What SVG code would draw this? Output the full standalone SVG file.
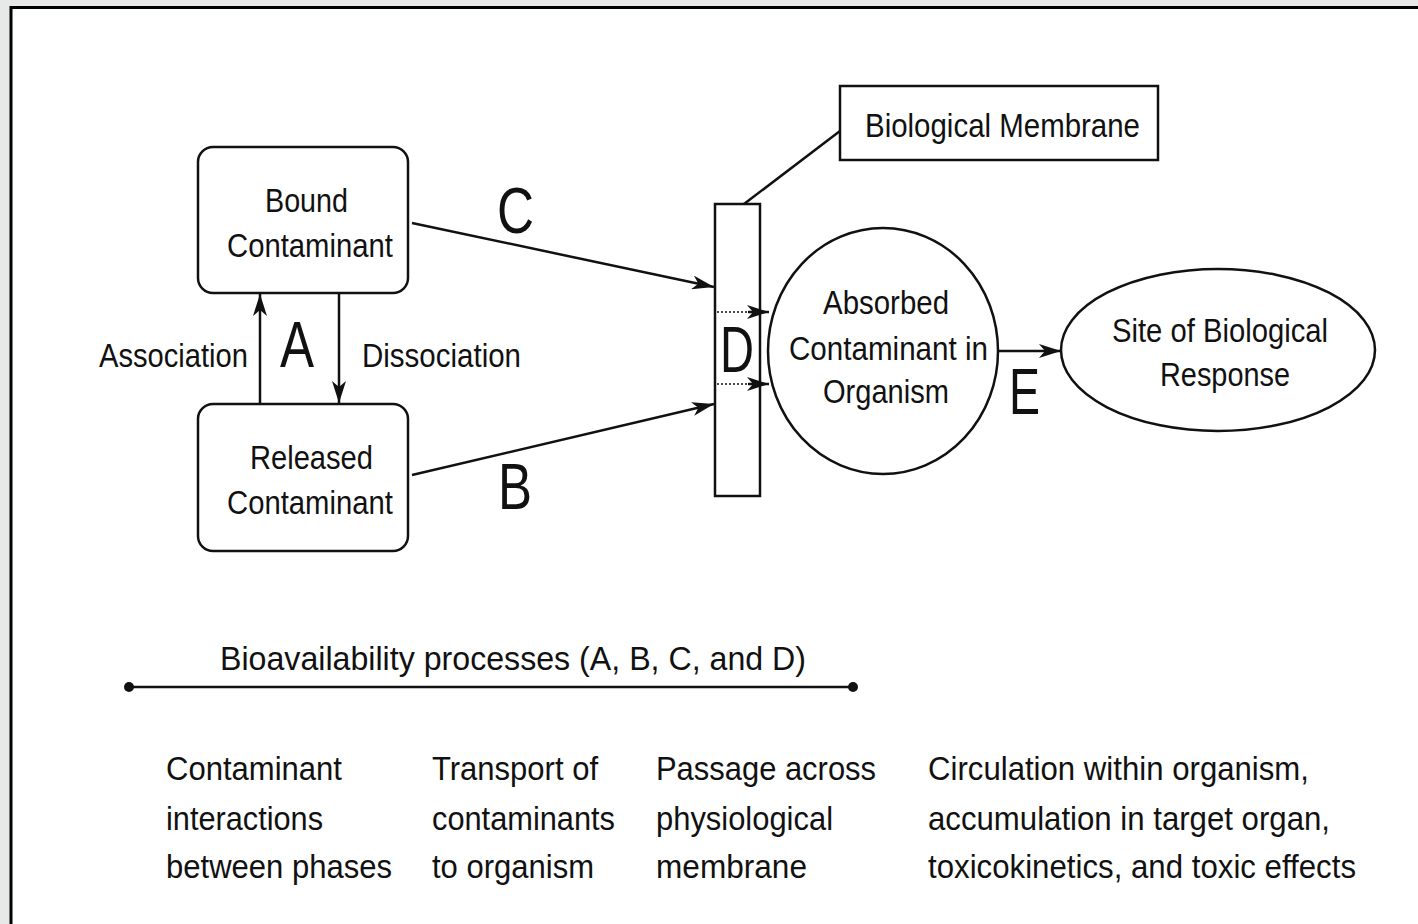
<svg xmlns="http://www.w3.org/2000/svg" width="1418" height="924" viewBox="0 0 1418 924">
<style>
  .t{font-family:"Liberation Sans",Arial,sans-serif;font-size:33px;fill:#111}
  .b{font-family:"Liberation Sans",Arial,sans-serif;font-size:34px;fill:#111}
  .big{font-family:"Liberation Sans",Arial,sans-serif;font-size:64px;fill:#111}
  .sh{fill:#fff;stroke:#111;stroke-width:2.5}
  .ln{stroke:#111;stroke-width:2.5;fill:none}
  .dot{stroke:#111;stroke-width:1.5;stroke-dasharray:2 2;fill:none}
</style>
<defs>
  <marker id="ah" viewBox="0 0 22 14" refX="22" refY="7" markerWidth="22" markerHeight="14" orient="auto" markerUnits="userSpaceOnUse">
    <path d="M0,0 L22,7 L0,14 L6,7 Z" fill="#111"/>
  </marker>
</defs>
<rect x="0" y="0" width="1418" height="924" fill="#e6e9e8"/>
<rect x="11" y="7.5" width="1420" height="930" fill="#fff" stroke="#000" stroke-width="3"/>

<g id="connectors">
  <line class="ln" x1="260" y1="404" x2="260" y2="294" marker-end="url(#ah)"/>
  <line class="ln" x1="339" y1="293" x2="339" y2="403" marker-end="url(#ah)"/>
  <line class="ln" x1="412" y1="223" x2="714" y2="287" marker-end="url(#ah)"/>
  <line class="ln" x1="412" y1="475" x2="714" y2="404" marker-end="url(#ah)"/>
  <line class="dot" x1="717" y1="312" x2="752" y2="312"/>
  <line class="ln" x1="748" y1="312" x2="769" y2="312" marker-end="url(#ah)"/>
  <line class="dot" x1="717" y1="384" x2="752" y2="384"/>
  <line class="ln" x1="748" y1="384" x2="769" y2="384" marker-end="url(#ah)"/>
  <line class="ln" x1="998" y1="351" x2="1061" y2="351" marker-end="url(#ah)"/>
  <line class="ln" x1="744" y1="204" x2="840" y2="131"/>
</g>

<g id="bound">
  <rect class="sh" x="198" y="147" width="210" height="146" rx="15"/>
  <text class="t" x="265" y="212" textLength="83" lengthAdjust="spacingAndGlyphs">Bound</text>
  <text class="t" x="227" y="257" textLength="166" lengthAdjust="spacingAndGlyphs">Contaminant</text>
</g>
<g id="released">
  <rect class="sh" x="198" y="404" width="210" height="147" rx="15"/>
  <text class="t" x="250" y="469" textLength="123" lengthAdjust="spacingAndGlyphs">Released</text>
  <text class="t" x="227" y="514" textLength="166" lengthAdjust="spacingAndGlyphs">Contaminant</text>
</g>
<g id="labelA">
  <text class="t" x="99" y="367" textLength="149" lengthAdjust="spacingAndGlyphs">Association</text>
  <text class="big" x="280" y="367" textLength="34" lengthAdjust="spacingAndGlyphs">A</text>
  <text class="t" x="362" y="367" textLength="159" lengthAdjust="spacingAndGlyphs">Dissociation</text>
</g>
<g id="labelC"><text class="big" x="497" y="233" textLength="37" lengthAdjust="spacingAndGlyphs">C</text></g>
<g id="labelB"><text class="big" x="498" y="509" textLength="34" lengthAdjust="spacingAndGlyphs">B</text></g>

<g id="membrane">
  <rect x="715" y="204" width="45" height="292" fill="none" stroke="#111" stroke-width="2.5"/>
  <text class="big" x="720" y="372" textLength="34" lengthAdjust="spacingAndGlyphs">D</text>
</g>
<g id="membrane-label">
  <rect class="sh" x="840" y="86" width="318" height="74"/>
  <text class="t" x="865" y="137" textLength="275" lengthAdjust="spacingAndGlyphs">Biological Membrane</text>
</g>
<g id="absorbed">
  <ellipse class="sh" cx="883" cy="351" rx="115" ry="123"/>
  <text class="t" x="823" y="314" textLength="126" lengthAdjust="spacingAndGlyphs">Absorbed</text>
  <text class="t" x="789" y="360" textLength="199" lengthAdjust="spacingAndGlyphs">Contaminant in</text>
  <text class="t" x="823" y="403" textLength="126" lengthAdjust="spacingAndGlyphs">Organism</text>
</g>
<g id="labelE"><text class="big" x="1009" y="414" textLength="31" lengthAdjust="spacingAndGlyphs">E</text></g>
<g id="site">
  <ellipse class="sh" cx="1218" cy="350" rx="157" ry="81"/>
  <text class="t" x="1112" y="342" textLength="216" lengthAdjust="spacingAndGlyphs">Site of Biological</text>
  <text class="t" x="1160" y="386" textLength="130" lengthAdjust="spacingAndGlyphs">Response</text>
</g>

<g id="bioavailability">
  <text class="b" x="220" y="670" textLength="586" lengthAdjust="spacingAndGlyphs">Bioavailability processes (A, B, C, and D)</text>
  <line class="ln" x1="128" y1="687" x2="854" y2="687"/>
  <circle cx="129" cy="687" r="5" fill="#111"/>
  <circle cx="853" cy="687" r="5" fill="#111"/>
</g>

<g id="col1">
  <text class="b" x="166" y="780" textLength="176" lengthAdjust="spacingAndGlyphs">Contaminant</text>
  <text class="b" x="166" y="830" textLength="157" lengthAdjust="spacingAndGlyphs">interactions</text>
  <text class="b" x="166" y="878" textLength="226" lengthAdjust="spacingAndGlyphs">between phases</text>
</g>
<g id="col2">
  <text class="b" x="432" y="780" textLength="166" lengthAdjust="spacingAndGlyphs">Transport of</text>
  <text class="b" x="432" y="830" textLength="183" lengthAdjust="spacingAndGlyphs">contaminants</text>
  <text class="b" x="432" y="878" textLength="162" lengthAdjust="spacingAndGlyphs">to organism</text>
</g>
<g id="col3">
  <text class="b" x="656" y="780" textLength="220" lengthAdjust="spacingAndGlyphs">Passage across</text>
  <text class="b" x="656" y="830" textLength="177" lengthAdjust="spacingAndGlyphs">physiological</text>
  <text class="b" x="656" y="878" textLength="151" lengthAdjust="spacingAndGlyphs">membrane</text>
</g>
<g id="col4">
  <text class="b" x="928" y="780" textLength="381" lengthAdjust="spacingAndGlyphs">Circulation within organism,</text>
  <text class="b" x="928" y="830" textLength="402" lengthAdjust="spacingAndGlyphs">accumulation in target organ,</text>
  <text class="b" x="928" y="878" textLength="428" lengthAdjust="spacingAndGlyphs">toxicokinetics, and toxic effects</text>
</g>
</svg>
